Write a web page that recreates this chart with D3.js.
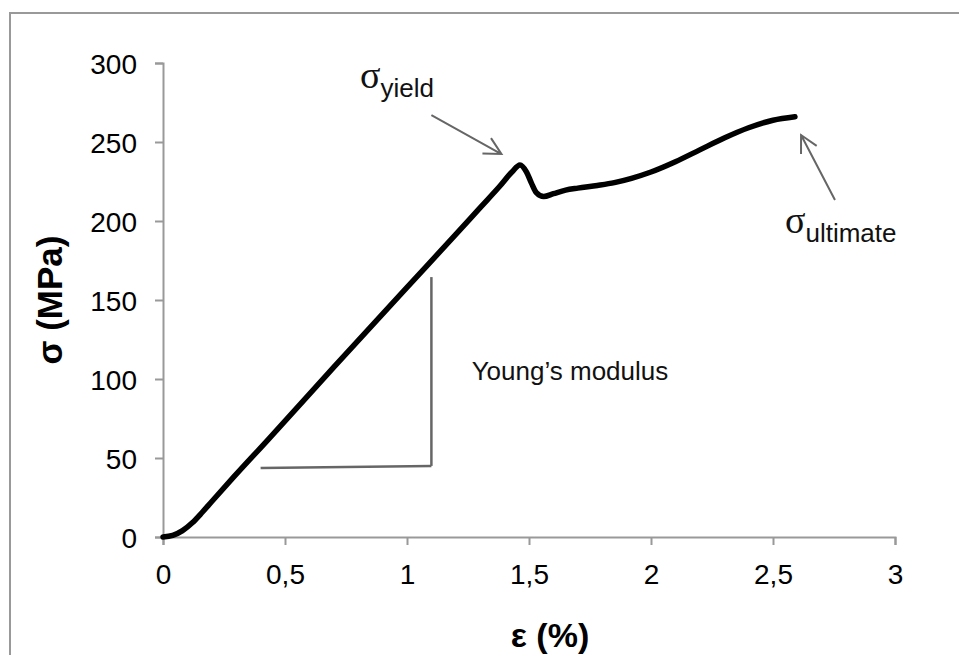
<!DOCTYPE html>
<html>
<head>
<meta charset="utf-8">
<script src="https://cdn.jsdelivr.net/npm/d3@7"></script>
<style>
  html, body { margin: 0; padding: 0; background: #fff; }
  svg { display: block; font-family: "Liberation Sans", Arial, sans-serif; }
</style>
</head>
<body>
<svg id="chart" width="959" height="655"></svg>
<script>
// ---- data ----
const strain = [0, 0.04, 0.08, 0.12, 0.16, 0.20, 0.29, 0.43, 0.70, 1.00, 1.20, 1.30, 1.38, 1.43, 1.463, 1.49, 1.51, 1.53, 1.56, 1.60, 1.65, 1.70, 1.78, 1.85, 1.92, 2.00, 2.10, 2.20, 2.30, 2.40, 2.50, 2.59];
const stress = [0, 1, 4, 9, 15.5, 22.5, 38, 61.5, 107.5, 158, 191.5, 208.5, 222, 231, 235.5, 231, 224, 218, 215.5, 217.3, 219.5, 220.8, 222.5, 224.3, 227, 231, 237.5, 245, 252.5, 259, 263.8, 266];
const xTicks = [0, 0.5, 1, 1.5, 2, 2.5, 3];
const yTicks = [0, 50, 100, 150, 200, 250, 300];
const xTitle = "ε (%)";
const yTitle = "σ (MPa)";
const modulusLabel = "Young’s modulus";
const modulusH = [[0.40, 43.7], [1.10, 45]];
const modulusV = [[1.10, 45], [1.10, 164.5]];
const yieldArrow = [[1.10, 267], [1.387, 242.4]];
const ultimateArrow = [[2.754, 213.3], [2.615, 254.4]];
const yieldLabelPos = [0.807, 284];
const ultimateLabelPos = [2.549, 192.4];
const modulusLabelPos = [1.265, 99.4];

// ---- layout ----
const svg = d3.select("#chart");
const x = d3.scaleLinear().domain([0, 3]).range([163, 895]);
const y = d3.scaleLinear().domain([0, 300]).range([537, 63]);
const fmt = d => String(d).replace(".", ",");

// outer frame
svg.append("rect")
  .attr("x", 10).attr("y", 13).attr("width", 980).attr("height", 700)
  .attr("fill", "#fff").attr("stroke", "#999").attr("stroke-width", 2);

// axes
const gx = svg.append("g").attr("transform", `translate(0,${y(0)})`)
  .call(d3.axisBottom(x).tickValues(xTicks).tickFormat(fmt).tickSize(8).tickPadding(19));
const gy = svg.append("g").attr("transform", `translate(${x(0)},0)`)
  .call(d3.axisLeft(y).tickValues(yTicks).tickFormat(d3.format("d")).tickSize(8).tickPadding(18));
[gx, gy].forEach(g => {
  g.select(".domain").attr("stroke", "#999").attr("stroke-width", 2);
  g.selectAll(".tick line").attr("stroke", "#999").attr("stroke-width", 2);
  g.selectAll(".tick text").attr("fill", "#000").style("font-size", "28px")
    .style("font-family", '"Liberation Sans", Arial, sans-serif');
});
gy.selectAll(".tick text").attr("dy", "0.36em");

// axis titles
svg.append("text")
  .attr("transform", `translate(49,${(y(0) + y(300)) / 2}) rotate(-90)`)
  .attr("text-anchor", "middle").attr("dy", "0.36em")
  .style("font-size", "35px").style("font-weight", "bold")
  .text(yTitle);
svg.append("text")
  .attr("x", 550).attr("y", 647)
  .attr("text-anchor", "middle")
  .style("font-size", "34px").style("font-weight", "bold")
  .text(xTitle);

// Young's modulus triangle
const ln = d3.line().x(d => x(d[0])).y(d => y(d[1]));
svg.append("path").attr("d", ln(modulusH)).attr("fill", "none")
  .attr("stroke", "#666").attr("stroke-width", 2.5);
svg.append("path").attr("d", ln(modulusV)).attr("fill", "none")
  .attr("stroke", "#666").attr("stroke-width", 2.5);
svg.append("text")
  .attr("x", x(modulusLabelPos[0])).attr("y", y(modulusLabelPos[1]))
  .style("font-size", "26px").attr("fill", "#111")
  .text(modulusLabel);

// curve
svg.append("path")
  .datum(strain.map((s, i) => [s, stress[i]]))
  .attr("d", d3.line().x(d => x(d[0])).y(d => y(d[1])).curve(d3.curveMonotoneX))
  .attr("fill", "none").attr("stroke", "#000").attr("stroke-width", 5.5)
  .attr("stroke-linecap", "round").attr("stroke-linejoin", "round");

// arrows with open heads
function arrow(pts) {
  const [x0, y0] = [x(pts[0][0]), y(pts[0][1])];
  const [x1, y1] = [x(pts[1][0]), y(pts[1][1])];
  const ang = Math.atan2(y1 - y0, x1 - x0);
  const L = 19, a = Math.PI / 6.5;
  const w1 = [x1 - L * Math.cos(ang - a), y1 - L * Math.sin(ang - a)];
  const w2 = [x1 - L * Math.cos(ang + a), y1 - L * Math.sin(ang + a)];
  const p = d3.path();
  p.moveTo(x0, y0); p.lineTo(x1, y1);
  p.moveTo(w1[0], w1[1]); p.lineTo(x1, y1); p.lineTo(w2[0], w2[1]);
  svg.append("path").attr("d", p.toString()).attr("fill", "none")
    .attr("stroke", "#666").attr("stroke-width", 2).attr("stroke-linejoin", "miter");
}
arrow(yieldArrow);
arrow(ultimateArrow);

// sigma labels
function sigmaLabel(pos, sub) {
  const t = svg.append("text").attr("x", x(pos[0])).attr("y", y(pos[1])).attr("fill", "#111");
  t.append("tspan").style("font-family", '"Liberation Serif", "Times New Roman", serif')
    .style("font-size", "38px").text("σ");
  t.append("tspan").attr("dy", 9)
    .style("font-family", '"Liberation Sans", Arial, sans-serif')
    .style("font-size", "26px").text(sub);
}
sigmaLabel(yieldLabelPos, "yield");
sigmaLabel(ultimateLabelPos, "ultimate");
</script>
</body>
</html>
